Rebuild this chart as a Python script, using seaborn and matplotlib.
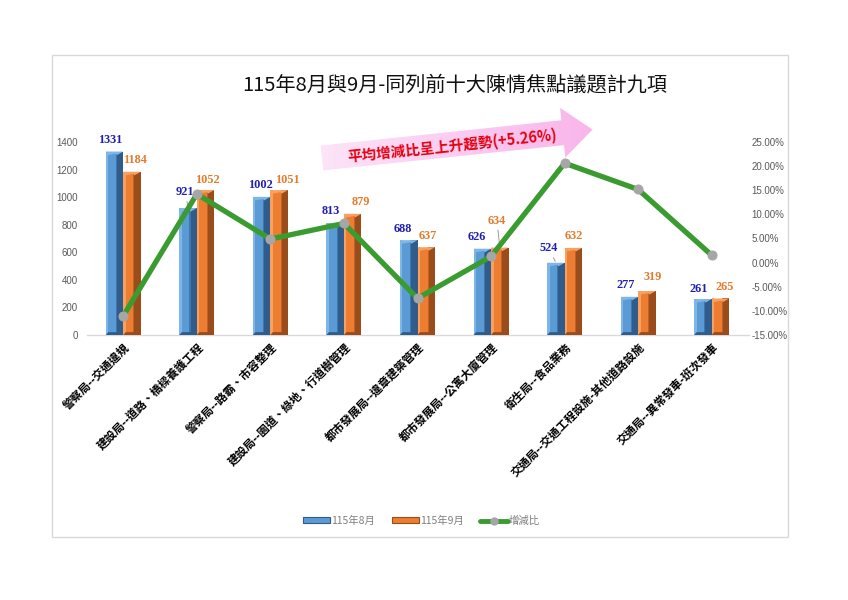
import matplotlib
matplotlib.use('Agg')
import matplotlib.pyplot as plt
import seaborn as sns
import pandas as pd
import numpy as np
from matplotlib.patches import Polygon, Rectangle, Patch
from matplotlib.lines import Line2D
from matplotlib.ticker import FuncFormatter, MultipleLocator
from matplotlib.colors import LinearSegmentedColormap

# ---------------- data ----------------
categories = [
    '警察局--交通違規',
    '建設局--道路、橋樑養護工程',
    '警察局--路霸、市容整理',
    '建設局--園道、綠地、行道樹管理',
    '都市發展局--違章建築管理',
    '都市發展局--公寓大廈管理',
    '衛生局--食品業務',
    '交通局--交通工程設施-其他道路設施',
    '交通局--異常發車-班次發車',
]
aug_values = [1331, 921, 1002, 813, 688, 626, 524, 277, 261]
sep_values = [1184, 1052, 1051, 879, 637, 634, 632, 319, 265]
change_pct = [-11.04, 14.22, 4.89, 8.12, -7.41, 1.28, 20.61, 15.16, 1.53]
series_names = ['115年8月', '115年9月']
line_name = '增減比'
title_text = '115年8月與9月-同列前十大陳情焦點議題計九項'
note_text = '平均增減比呈上升趨勢(+5.26%)'
left_ticks = [0, 200, 400, 600, 800, 1000, 1200, 1400]

# label placement (style only, offsets in points)
label_dx = [[-3, -2, -1, -3, -4, -4, -5, -3, -3],
            [2, 1, 6, 6, 1, -2, 0, 4, 3]]
label_dy = [[4, 7, 4, 4, 4, 4, 6, 4, 3],
            [4, 3, 3, 4, 4, 15, 4, 6, 4]]
leaders = {(0, 1), (0, 6), (1, 5)}

# ---------------- style ----------------
sns.set_theme(style='white')
plt.rcParams['font.family'] = ['Noto Sans CJK TC', 'DejaVu Sans']

W, H = 848, 600
fig = plt.figure(figsize=(W / 100, H / 100), dpi=100)
fig.patch.set_facecolor('white')

# overlay (pixel coordinates) for frame, title and arrow note
ov = fig.add_axes([0, 0, 1, 1], zorder=0)
ov.set_xlim(0, W)
ov.set_ylim(H, 0)
ov.axis('off')
ov.add_patch(Rectangle((52, 55), 736, 482, fill=False, edgecolor='#d9d9d9', lw=1.0))
ov.text(455, 85, title_text, ha='center', va='center', fontsize=14.5, color='#111111')

# gradient arrow
ang = np.deg2rad(6.0)
d = np.array([np.cos(ang), -np.sin(ang)])
n = np.array([np.sin(ang), np.cos(ang)])
tail = np.array([322.0, 158.0])
shaft_len, head_len, sw, hw = 242.0, 30.0, 12.5, 25.0
pts = [tail + n * sw, tail + d * shaft_len + n * sw, tail + d * shaft_len + n * hw,
       tail + d * (shaft_len + head_len), tail + d * shaft_len - n * hw,
       tail + d * shaft_len - n * sw, tail - n * sw]
arrow = Polygon(pts, closed=True, facecolor='none', edgecolor='none')
ov.add_patch(arrow)
cmap = LinearSegmentedColormap.from_list('pk', ['#fde6f8', '#f9b4ea'])
grad = np.linspace(0, 1, 256).reshape(1, -1)
im = ov.imshow(grad, cmap=cmap, extent=(310, 600, 180, 100), aspect='auto', zorder=1)
im.set_clip_path(arrow)
ov.set_xlim(0, W)
ov.set_ylim(H, 0)
ov.text(452, 146, note_text, ha='center', va='center', rotation=6.0, fontsize=10.5,
        fontweight='bold', color='#e60012', zorder=2)

# main axes
ax = fig.add_axes([86.5 / W, 1 - 335 / H, 662 / W, 193 / H], zorder=2)
ax.patch.set_alpha(0)
df = pd.DataFrame({
    'cat': categories * 2,
    'series': [series_names[0]] * len(categories) + [series_names[1]] * len(categories),
    'value': aug_values + sep_values,
})
base_cols = ['#5b9bd5', '#ed7d31']
sns.barplot(data=df, x='cat', y='value', hue='series', palette=base_cols,
            width=0.475, gap=0, saturation=1, legend=False, ax=ax, zorder=2)

light_cols = ['#7fb6ea', '#f8a060']
dark_cols = ['#2f5c8a', '#9a4d1a']
mid_cols = ['#3f77ad', '#c0622a']
bev = 26
for ci, cont in enumerate(ax.containers):
    for bar in cont:
        x0, w, h = bar.get_x(), bar.get_width(), bar.get_height()
        ax.add_patch(Rectangle((x0, 0), 0.14 * w, h, color=light_cols[ci], lw=0, zorder=3))
        ax.add_patch(Rectangle((x0 + 0.58 * w, 0), 0.06 * w, h, color=mid_cols[ci], lw=0, zorder=3))
        ax.add_patch(Rectangle((x0 + 0.64 * w, 0), 0.36 * w, h, color=dark_cols[ci], lw=0, zorder=3))
        ax.add_patch(Polygon([(x0, h), (x0 + w, h), (x0 + 0.64 * w, h - bev), (x0 + 0.58 * w, h - bev * 0.6),
                              (x0 + 0.14 * w, h - bev)], closed=True, color=light_cols[ci], lw=0, zorder=4))
        ax.add_patch(Polygon([(x0, 0), (x0 + w, 0), (x0 + 0.64 * w, bev * 0.8), (x0 + 0.14 * w, bev * 0.8)],
                             closed=True, color=dark_cols[ci], lw=0, zorder=4))

ax.set_xlim(-0.5, len(categories) - 0.5)
ax.set_ylim(0, 1400)
ax.set_yticks(left_ticks)
ax.set_xlabel('')
ax.set_ylabel('')
for s in ['top', 'right', 'left']:
    ax.spines[s].set_visible(False)
ax.spines['bottom'].set_color('#d9d9d9')
ax.spines['bottom'].set_linewidth(1.0)
ax.tick_params(axis='y', length=0, labelsize=7, labelcolor='#595959', pad=6)
ax.tick_params(axis='x', length=0, pad=4)
ax.set_xticks(range(len(categories)))
ax.set_xticklabels(categories, rotation=45, ha='right', va='top', rotation_mode='anchor',
                   fontsize=8.2, fontweight='bold', color='#000000')
for lab in ax.get_yticklabels():
    lab.set_fontfamily(['Liberation Sans', 'DejaVu Sans'])

# value labels
label_cols = ['#1f1fb0', '#e27b2c']
for ci, cont in enumerate(ax.containers):
    vals = aug_values if ci == 0 else sep_values
    for bi, bar in enumerate(cont):
        cx = bar.get_x() + bar.get_width() / 2
        kw = {}
        if (ci, bi) in leaders:
            kw['arrowprops'] = dict(arrowstyle='-', color='#8c8c8c', lw=0.6, shrinkA=0, shrinkB=1)
        ax.annotate(str(vals[bi]), (cx, bar.get_height()),
                    xytext=(label_dx[ci][bi], label_dy[ci][bi]), textcoords='offset points',
                    ha='center', va='bottom', fontsize=8.8, fontweight='bold', color=label_cols[ci],
                    family=['Liberation Serif', 'DejaVu Serif'], zorder=6, **kw)

# percent line on right axis
ax2 = ax.twinx()
ax2.patch.set_alpha(0)
sns.lineplot(x=list(range(len(categories))), y=[v / 100 for v in change_pct], ax=ax2,
             color='#3a9b30', lw=3.8, marker='o', markersize=6.5, markerfacecolor='#a6a6a6',
             markeredgecolor='#a6a6a6', zorder=5, legend=False)
ax2.set_xlim(-0.5, len(categories) - 0.5)
ax2.set_ylim(-0.15, 0.25)
ax2.yaxis.set_major_locator(MultipleLocator(0.05))
ax2.yaxis.set_major_formatter(FuncFormatter(lambda v, p: f'{v * 100:.2f}%'))
ax2.tick_params(axis='y', length=0, labelsize=7, labelcolor='#595959', pad=2)
for lab in ax2.get_yticklabels():
    lab.set_fontfamily(['Liberation Sans', 'DejaVu Sans'])
for s in ax2.spines.values():
    s.set_visible(False)
ax2.set_ylabel('')

# legend
handles = [
    Patch(facecolor=base_cols[0], edgecolor=dark_cols[0], lw=0.8),
    Patch(facecolor=base_cols[1], edgecolor=dark_cols[1], lw=0.8),
    Line2D([0], [0], color='#3a9b30', lw=3.5, marker='o', markersize=5,
           markerfacecolor='#a6a6a6', markeredgecolor='#a6a6a6'),
]
leg = fig.legend(handles, series_names + [line_name], loc='center', bbox_to_anchor=(0.497, 0.132),
                 ncol=3, frameon=False, fontsize=7.5, labelcolor='#7f7f7f', handlelength=2.6,
                 handleheight=0.5, columnspacing=1.6, handletextpad=0.1)

fig.savefig('out.png', dpi=100)
